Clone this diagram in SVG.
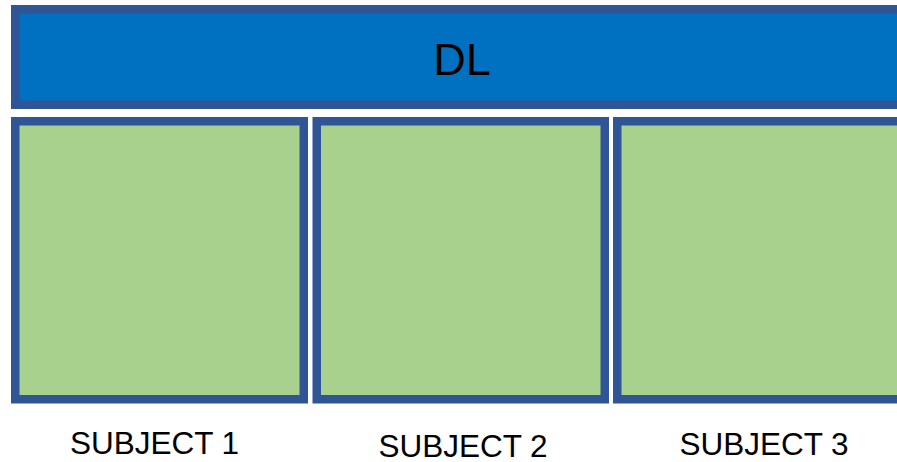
<svg xmlns="http://www.w3.org/2000/svg" width="897" height="462" viewBox="0 0 897 462">
<style>
.box{stroke:#2F5597;stroke-width:8.5}
.blue{fill:#0070C0}
.green{fill:#A9D18E}
.lbl{font-family:"Liberation Sans",Arial,sans-serif;fill:#000;text-anchor:middle}
.sub{font-size:31.5px}
</style>
<rect width="897" height="462" fill="#FFFFFF"/>
<g id="dl">
<rect class="box blue" x="15.25" y="9.25" width="900" height="95.5"/>
<text class="lbl" x="462" y="75" font-size="45">DL</text>
</g>
<g id="subject1">
<rect class="box green" x="15.25" y="121.25" width="288.5" height="278"/>
<text class="lbl sub" x="154.5" y="453.5">SUBJECT 1</text>
</g>
<g id="subject2">
<rect class="box green" x="316.75" y="121.25" width="288" height="278"/>
<text class="lbl sub" x="463" y="456.7">SUBJECT 2</text>
</g>
<g id="subject3">
<rect class="box green" x="617.25" y="121.25" width="300" height="278"/>
<text class="lbl sub" x="764" y="455">SUBJECT 3</text>
</g>
<g id="connectors"/>
</svg>
